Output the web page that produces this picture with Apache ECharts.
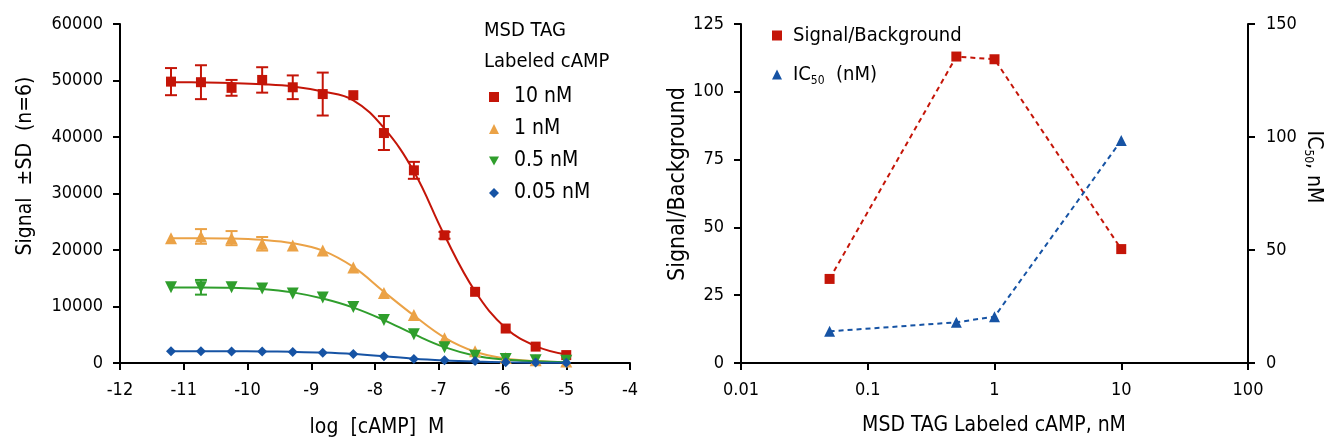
<!DOCTYPE html>
<html>
<head>
<meta charset="utf-8">
<script src="https://cdn.jsdelivr.net/npm/echarts@6/dist/echarts.min.js"></script>
<style>
html,body{margin:0;padding:0;background:#fff;}
#c{width:1327px;height:443px;}
</style>
</head>
<body>
<div id="c"></div>
<script>
// ---------- Left chart data ----------
const logConc = [-11.2, -10.73, -10.25, -9.77, -9.29, -8.82, -8.34, -7.86, -7.39, -6.91, -6.43, -5.95, -5.48, -5];
const leftXTicks = [-12, -11, -10, -9, -8, -7, -6, -5, -4];
const leftYTicks = [0, 10000, 20000, 30000, 40000, 50000, 60000];

const seriesNames = ['10 nM', '1 nM', '0.5 nM', '0.05 nM'];

const red10 = [49800, 49700, 48700, 50100, 48800, 47600, 47400, 40700, 34100, 22600, 12600, 6100, 2900, 1400];
const red10SD = [2400, 3000, 1400, 2250, 2100, 3800, 0, 3000, 1500, 600, 0, 0, 0, 0];
const red10Fit = [49700, 49650, 49550, 49350, 48950, 48050, 46500, 41600, 33900, 22600, 12700, 6200, 3000, 1500];

const orange1 = [22100, 22400, 22100, 21100, 20800, 19900, 16900, 12400, 8500, 4400, 2100, 900, 500, 250];
const orange1SD = [0, 1300, 1250, 1200, 0, 0, 0, 0, 0, 0, 0, 0, 0, 0];
const orange1Fit = [22100, 22100, 22050, 21800, 21200, 19900, 17000, 12600, 8400, 4500, 2000, 800, 350, 150];

const green05 = [13400, 13400, 13400, 13200, 12300, 11600, 9900, 7600, 5100, 2800, 1300, 700, 500, 400];
const green05SD = [0, 1300, 0, 0, 0, 0, 0, 0, 0, 0, 0, 0, 0, 0];
const green05Fit = [13350, 13350, 13300, 13100, 12500, 11400, 9800, 7600, 5100, 2800, 1300, 600, 300, 150];

const blue005 = [2100, 2100, 2050, 2050, 1950, 1800, 1600, 1200, 700, 500, 350, 150, 80, 50];
const blue005Fit = [2100, 2100, 2080, 2050, 1980, 1850, 1600, 1200, 750, 450, 250, 120, 60, 30];

// ---------- Right chart data ----------
const tagConc = [0.05, 0.5, 1, 10];
const signalBackground = [31, 113, 112, 42];
const ic50 = [14, 18, 20.5, 98.5];
const rightXTicks = [0.01, 0.1, 1, 10, 100];

const FONT = "'DejaVu Sans Condensed','DejaVu Sans',sans-serif";
const C_RED = '#c41508', C_ORANGE = '#eba246', C_GREEN = '#2f9e2c', C_BLUE = '#1653a4';
const downTri = 'path://M0,0 L10,0 L5,9 Z';

const chart = echarts.init(document.getElementById('c'), null, {renderer: 'canvas'});

function pts(ys) { return logConc.map((x, i) => [x, ys[i]]); }
function errData(ys, sd) { return logConc.map((x, i) => [x, ys[i], sd[i]]); }
function errSeries(ys, sd, color) {
  return {
    type: 'custom', xAxisIndex: 0, yAxisIndex: 0, z: 3, silent: true,
    data: errData(ys, sd),
    renderItem: function (params, api) {
      const x = api.value(0), y = api.value(1), s = api.value(2);
      if (!s) return null;
      const t = api.coord([x, y + s]), b = api.coord([x, y - s]);
      const hw = 6;
      const st = {stroke: color, lineWidth: 2};
      return {type: 'group', children: [
        {type: 'line', shape: {x1: t[0], y1: t[1], x2: b[0], y2: b[1]}, style: st},
        {type: 'line', shape: {x1: t[0] - hw, y1: t[1], x2: t[0] + hw, y2: t[1]}, style: st},
        {type: 'line', shape: {x1: b[0] - hw, y1: b[1], x2: b[0] + hw, y2: b[1]}, style: st}
      ]};
    }
  };
}
function fitLine(ys, color) {
  return {type: 'line', xAxisIndex: 0, yAxisIndex: 0, data: pts(ys), smooth: 0.4, symbol: 'none',
    lineStyle: {color: color, width: 2}, z: 2, silent: true};
}
function markers(name, ys, color, symbol, size) {
  return {type: 'scatter', name: name, xAxisIndex: 0, yAxisIndex: 0, data: pts(ys),
    symbol: symbol, symbolSize: size, itemStyle: {color: color, opacity: 1}, z: 4};
}

const labelBase = {color: '#000', fontFamily: FONT, fontSize: 18};
const axisCommon = {
  axisLine: {show: true, onZero: false, lineStyle: {color: '#000', width: 2}},
  axisTick: {show: true, inside: false, length: 7, lineStyle: {color: '#000', width: 2}},
  splitLine: {show: false}
};
function ax(extra, label) {
  return Object.assign({}, axisCommon, extra, {axisLabel: Object.assign({}, labelBase, label)});
}

const option = {
  animation: false,
  backgroundColor: '#fff',
  textStyle: {fontFamily: FONT},
  grid: [
    {left: 120, right: 697, top: 24, bottom: 80, containLabel: false},
    {left: 741, right: 79, top: 24, bottom: 80, containLabel: false}
  ],
  xAxis: [
    ax({type: 'value', gridIndex: 0, min: leftXTicks[0], max: leftXTicks[leftXTicks.length - 1], interval: 1},
       {margin: 18, formatter: v => String(v)}),
    ax({type: 'log', gridIndex: 1, logBase: 10, min: rightXTicks[0], max: rightXTicks[rightXTicks.length - 1]},
       {margin: 18, formatter: v => String(+Number(v).toPrecision(3))})
  ],
  yAxis: [
    ax({type: 'value', gridIndex: 0, min: leftYTicks[0], max: leftYTicks[leftYTicks.length - 1], interval: 10000},
       {margin: 17, formatter: v => String(v)}),
    ax({type: 'value', gridIndex: 1, min: 0, max: 125, interval: 25}, {margin: 17, formatter: v => String(v)}),
    ax({type: 'value', gridIndex: 1, min: 0, max: 150, interval: 50, position: 'right'}, {margin: 18, formatter: v => String(v)})
  ],
  legend: [
    {
      orient: 'vertical', left: 484, top: 80, itemWidth: 10, itemHeight: 10, itemGap: 8,
      textStyle: {fontFamily: FONT, fontSize: 21, color: '#000', lineHeight: 24, padding: [0, 0, 0, 10]},
      data: [
        {name: seriesNames[0], icon: 'rect'},
        {name: seriesNames[1], icon: 'triangle'},
        {name: seriesNames[2], icon: downTri},
        {name: seriesNames[3], icon: 'diamond'}
      ]
    },
    {
      orient: 'vertical', left: 767, top: 18, itemWidth: 10, itemHeight: 10, itemGap: 14,
      textStyle: {fontFamily: FONT, fontSize: 20, color: '#000', lineHeight: 25, padding: [0, 0, 0, 6],
        rich: {sub: {fontFamily: FONT, fontSize: 12, color: '#000', verticalAlign: 'bottom', padding: [9, 0, 0, 0]},
               n: {fontFamily: FONT, fontSize: 20, color: '#000'}}},
      formatter: function (name) {
        if (name === 'IC50 (nM)') return '{n|IC}{sub|50}{n|  (nM)}';
        return name;
      },
      data: [
        {name: 'Signal/Background', icon: 'rect'},
        {name: 'IC50 (nM)', icon: 'triangle'}
      ]
    }
  ],
  graphic: [
    {type: 'text', x: 484, y: 31, style: {text: 'MSD TAG', fontFamily: FONT, fontSize: 20, fill: '#000', textAlign: 'left', textVerticalAlign: 'middle'}},
    {type: 'text', x: 484, y: 62, style: {text: 'Labeled cAMP', fontFamily: FONT, fontSize: 20, fill: '#000', textAlign: 'left', textVerticalAlign: 'middle'}},
    {type: 'text', x: 26, y: 166, rotation: Math.PI / 2, style: {text: 'Signal  \u00b1SD  (n=6)', fontFamily: FONT, fontSize: 21, fill: '#000', textAlign: 'center', textVerticalAlign: 'middle'}},
    {type: 'text', x: 377, y: 428, style: {text: 'log  [cAMP]  M', fontFamily: FONT, fontSize: 21, fill: '#000', textAlign: 'center', textVerticalAlign: 'middle'}},
    {type: 'text', x: 994, y: 426, style: {text: 'MSD TAG Labeled cAMP, nM', fontFamily: FONT, fontSize: 21, fill: '#000', textAlign: 'center', textVerticalAlign: 'middle'}},
    {type: 'text', x: 678, y: 184, rotation: Math.PI / 2, style: {text: 'Signal/Background', fontFamily: FONT, fontSize: 23, fill: '#000', textAlign: 'center', textVerticalAlign: 'middle'}},
    {type: 'text', x: 1313, y: 167, rotation: -Math.PI / 2, style: {text: '{n|IC}{sub|50}{n|, nM}', fontFamily: FONT, fontSize: 21, fill: '#000', textAlign: 'center', textVerticalAlign: 'middle',
      rich: {n: {fontFamily: FONT, fontSize: 21, fill: '#000'}, sub: {fontFamily: FONT, fontSize: 12, fill: '#000', verticalAlign: 'bottom', padding: [9, 0, 0, 0]}}}}
  ],
  series: [
    fitLine(red10Fit, C_RED),
    fitLine(orange1Fit, C_ORANGE),
    fitLine(green05Fit, C_GREEN),
    fitLine(blue005Fit, C_BLUE),
    errSeries(red10, red10SD, C_RED),
    errSeries(orange1, orange1SD, C_ORANGE),
    errSeries(green05, green05SD, C_GREEN),
    markers(seriesNames[0], red10, C_RED, 'rect', 10),
    markers(seriesNames[1], orange1, C_ORANGE, 'triangle', 12),
    markers(seriesNames[2], green05, C_GREEN, downTri, 12),
    markers(seriesNames[3], blue005, C_BLUE, 'diamond', 10),
    {
      type: 'line', name: 'Signal/Background', xAxisIndex: 1, yAxisIndex: 1,
      data: tagConc.map((x, i) => [x, signalBackground[i]]),
      symbol: 'rect', symbolSize: 10, itemStyle: {color: C_RED},
      lineStyle: {color: C_RED, width: 2, type: [5, 4]}
    },
    {
      type: 'line', name: 'IC50 (nM)', xAxisIndex: 1, yAxisIndex: 2,
      data: tagConc.map((x, i) => [x, ic50[i]]),
      symbol: 'triangle', symbolSize: 11, itemStyle: {color: C_BLUE},
      lineStyle: {color: C_BLUE, width: 2, type: [5, 4]}
    }
  ]
};
chart.setOption(option);
</script>
</body>
</html>
